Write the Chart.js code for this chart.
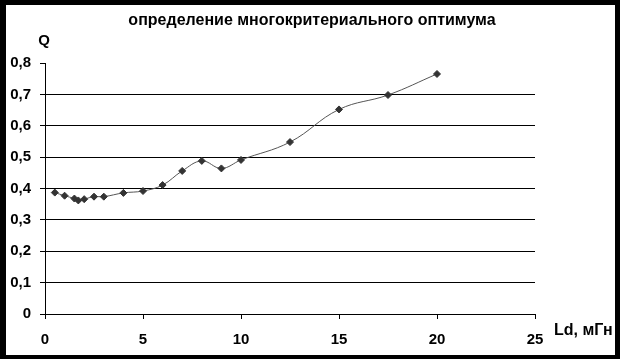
<!DOCTYPE html>
<html>
<head>
<meta charset="utf-8">
<script src="https://cdn.jsdelivr.net/npm/chart.js@4"></script>
<style>
  html, body { margin: 0; padding: 0; background: #000; }
  #box { position: absolute; left: 6px; top: 5px; width: 609px; height: 350px; background: #fff; }
</style>
</head>
<body>
<div id="box"><canvas id="myChart" width="609" height="350"></canvas></div>
<script>
// Ld, мГн
const ldValues = [0.5, 1, 1.5, 1.7, 2, 2.5, 3, 4, 5, 6, 7, 8, 9, 10, 12.5, 15, 17.5, 20];
// Q
const qValues = [0.387, 0.377, 0.368, 0.362, 0.366, 0.374, 0.374, 0.386, 0.392, 0.411, 0.456, 0.488, 0.464, 0.491, 0.548, 0.652, 0.698, 0.765];
const xTicks = [0, 5, 10, 15, 20, 25];
const yTicks = [0, 0.1, 0.2, 0.3, 0.4, 0.5, 0.6, 0.7, 0.8];

const chartTitle = "определение многокритериального оптимума";
const yTitle = "Q";
const xTitle = "Ld, мГн";

Chart.defaults.font.family = "'Liberation Sans', Arial, sans-serif";
Chart.defaults.font.weight = "bold";
Chart.defaults.font.size = 15;
Chart.defaults.color = "#000";

const puntos = ldValues.map((x, i) => ({ x: x, y: qValues[i] }));

// textos fuera del area del grafico
const textos = {
  id: "textos",
  afterDraw(chart) {
    const ctx = chart.ctx;
    ctx.save();
    ctx.fillStyle = "#000";
    ctx.textBaseline = "alphabetic";
    ctx.textAlign = "center";
    ctx.font = "bold 16px 'Liberation Sans', Arial, sans-serif";
    ctx.fillText(chartTitle, 306, 20);
    ctx.font = "bold 15px 'Liberation Sans', Arial, sans-serif";
    ctx.fillText(yTitle, 38, 40);
    ctx.textAlign = "left";
    ctx.textBaseline = "middle";
    ctx.font = "bold 16px 'Liberation Sans', Arial, sans-serif";
    ctx.fillText(xTitle, 548, 326);
    ctx.restore();
  },
};

const config = {
  type: "line",
  data: {
    datasets: [
      {
        data: puntos,
        borderColor: "#555",
        borderWidth: 1,
        tension: 0.4,
        pointStyle: "rectRot",
        pointRadius: 3.5,
        pointBackgroundColor: "#333",
        pointBorderColor: "#333",
        pointBorderWidth: 1,
        fill: false,
      },
    ],
  },
  options: {
    responsive: false,
    animation: false,
    layout: { padding: { top: 58, right: 80, left: 0, bottom: 0 } },
    plugins: {
      legend: { display: false },
      title: { display: false },
      tooltip: { enabled: false },
    },
    scales: {
      x: {
        type: "linear",
        min: 0,
        max: 25,
        afterBuildTicks: (scale) => { scale.ticks = xTicks.map((v) => ({ value: v })); },
        afterFit: (scale) => { scale.height = 41; },
        grid: { drawOnChartArea: false, tickLength: 5, tickColor: "#000" },
        border: { color: "#000", width: 1 },
        ticks: { padding: 12, maxRotation: 0 },
      },
      y: {
        min: 0,
        max: 0.8,
        afterBuildTicks: (scale) => { scale.ticks = yTicks.map((v) => ({ value: v })); },
        afterFit: (scale) => { scale.width = 39; },
        grid: {
          tickLength: 5,
          tickColor: "#000",
          color: (c) => (c.tick && (c.tick.value === 0.8 || c.tick.value === 0) ? "rgba(0,0,0,0)" : "#000"),
        },
        border: { color: "#000", width: 1 },
        ticks: {
          padding: 9,
          callback: (v) => (v === 0 ? "0" : v.toFixed(1).replace(".", ",")),
        },
      },
    },
  },
  plugins: [textos],
};

const myChartElement = document.getElementById("myChart");
var myChart = new Chart(myChartElement, config);
</script>
</body>
</html>
